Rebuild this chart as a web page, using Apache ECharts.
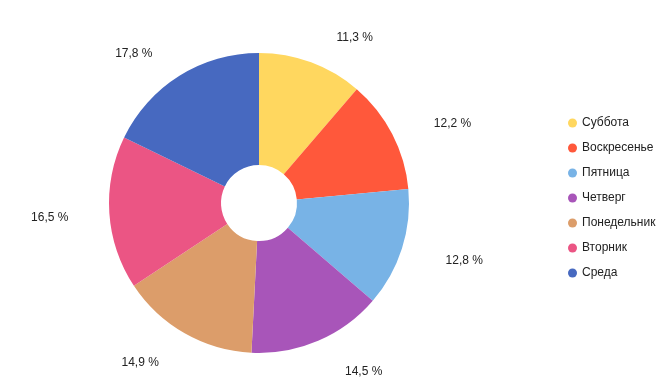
<!DOCTYPE html>
<html>
<head>
<meta charset="utf-8">
<script src="https://cdn.jsdelivr.net/npm/echarts@6/dist/echarts.min.js"></script>
<style>html,body{margin:0;padding:0;background:#fff}#c{width:672px;height:389px}</style>
</head>
<body>
<div id="c"></div>
<script>
const categories = ['Суббота','Воскресенье','Пятница','Четверг','Понедельник','Вторник','Среда'];
const values = [11.3, 12.2, 12.8, 14.5, 14.9, 16.5, 17.8];
const colors = ['#FFD75F','#FF583B','#78B3E6','#A855B9','#DC9D6A','#EB5584','#4769C0'];

const chart = echarts.init(document.getElementById('c'), null, {renderer:'canvas'});
chart.setOption({
  animation: false,
  color: colors,
  legend: {
    orient: 'vertical',
    left: 563, top: 112,
    icon: 'circle', itemWidth: 9, itemHeight: 9, itemGap: 13,
    textStyle: { fontFamily: 'Liberation Sans, Arial', fontSize: 12, color: '#222' },
    data: categories
  },
  series: [{
    type: 'pie',
    center: [259, 203],
    radius: [38, 150],
    startAngle: 90,
    clockwise: true,
    avoidLabelOverlap: false,
    data: categories.map((n,i)=>({name:n, value:values[i]})),
    label: {
      show: true, position: 'outside',
      formatter: p => p.value.toFixed(1).replace('.', ',') + ' %',
      fontFamily: 'Liberation Sans, Arial', fontSize: 12, color: '#222'
    },
    labelLine: { show: false, length: 30, length2: 8 },
    labelLayout: { dx: 2, dy: 3 },
    itemStyle: { borderWidth: 0 }
  }]
});
</script>
</body>
</html>
